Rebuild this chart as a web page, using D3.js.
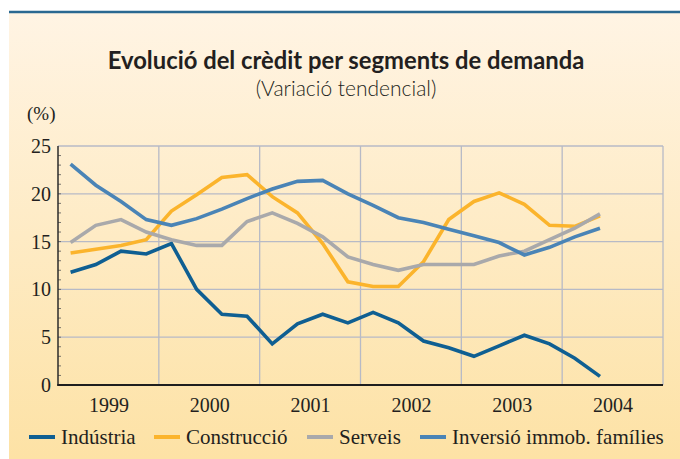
<!doctype html>
<html>
<head>
<meta charset="utf-8" />
<script src="https://d3js.org/d3.v7.min.js"></script>
<style>
  body{ margin:0; background:#fff; }
  svg text{ fill:#231f20; }
</style>
</head>
<body>
<svg width="680" height="459"></svg>
<script>
// quarterly data, 1999 T1 .. 2004 T2
var years = [1999, 2000, 2001, 2002, 2003, 2004];
var yTicks = [0, 5, 10, 15, 20, 25];

var industria   = [11.8, 12.6, 14.0, 13.7, 14.8, 10.0, 7.4, 7.2, 4.3, 6.4, 7.4, 6.5, 7.6, 6.5, 4.6, 3.9, 3.0, 4.1, 5.2, 4.3, 2.8, 0.9];
var construccio = [13.8, 14.2, 14.6, 15.2, 18.2, 19.9, 21.7, 22.0, 19.7, 18.0, 14.8, 10.8, 10.3, 10.3, 12.9, 17.3, 19.2, 20.1, 18.9, 16.7, 16.6, 17.7];
var serveis     = [14.9, 16.7, 17.3, 16.0, 15.2, 14.6, 14.6, 17.1, 18.0, 16.9, 15.5, 13.4, 12.6, 12.0, 12.6, 12.6, 12.6, 13.5, 14.0, 15.2, 16.4, 17.9];
var inversio    = [23.1, 20.9, 19.2, 17.3, 16.7, 17.4, 18.4, 19.5, 20.5, 21.3, 21.4, 20.0, 18.8, 17.5, 17.0, 16.3, 15.6, 14.9, 13.6, 14.4, 15.5, 16.4];

var seriesNames  = ["Indústria", "Construcció", "Serveis", "Inversió immob. famílies"];
var seriesColors = ["#0f5f92", "#fbb42c", "#a9a9ab", "#4a84b6"];
var seriesData   = [industria, construccio, serveis, inversio];

var svg = d3.select("svg");

// background panel
var defs = svg.append("defs");
var grad = defs.append("linearGradient").attr("id", "bg")
    .attr("x1", 0).attr("y1", 0).attr("x2", 0).attr("y2", 1);
grad.append("stop").attr("offset", "0%").attr("stop-color", "#fff4e4");
grad.append("stop").attr("offset", "100%").attr("stop-color", "#fde2a5");

svg.append("rect").attr("x", 9).attr("y", 12).attr("width", 671).attr("height", 447)
    .attr("fill", "url(#bg)");
svg.append("line").attr("x1", 9).attr("x2", 680).attr("y1", 12).attr("y2", 12)
    .attr("stroke", "#2a6891").attr("stroke-width", 2.5);

// titles
svg.append("text").attr("x", 346).attr("y", 69).attr("text-anchor", "middle")
    .style("font-family", "Lato, 'Open Sans', sans-serif").style("font-weight", 700)
    .style("font-size", "23.8px").text("Evolució del crèdit per segments de demanda");
svg.append("text").attr("x", 346).attr("y", 96).attr("text-anchor", "middle")
    .style("font-family", "Lato, 'Open Sans', sans-serif").style("font-weight", 300)
    .style("font-size", "21px").text("(Variació tendencial)");
svg.append("text").attr("x", 27).attr("y", 120)
    .style("font-family", "'Liberation Serif', serif").style("font-size", "19px").text("(%)");

// scales
var x = d3.scaleLinear().domain([1999, 2005]).range([58, 663]);
var y = d3.scaleLinear().domain([0, 25]).range([385, 146]);
var qx = function(i) { return x(1999 + (i + 0.5) / 4); };

// grid
var grid = svg.append("g").attr("stroke", "#b7bac6").attr("stroke-width", 1.3);
grid.selectAll("line.h").data(yTicks.slice(1)).enter().append("line")
    .attr("x1", x(1999)).attr("x2", x(2005))
    .attr("y1", d => y(d)).attr("y2", d => y(d));
grid.selectAll("line.v").data(d3.range(2000, 2006)).enter().append("line")
    .attr("x1", d => x(d)).attr("x2", d => x(d))
    .attr("y1", y(0)).attr("y2", y(25));

// y axis
var yAxis = d3.axisLeft(y).tickValues(yTicks).tickSize(0).tickPadding(7);
var gy = svg.append("g").attr("transform", "translate(58,0)").call(yAxis);
gy.select(".domain").remove();
gy.selectAll("text").style("font-family", "'Liberation Serif', serif").style("font-size", "20px")
    .style("fill", "#231f20");

// minor ticks inside
svg.append("g").selectAll("line").data(d3.range(1, 25)).enter().append("line")
    .attr("x1", 58).attr("x2", 61).attr("y1", d => y(d)).attr("y2", d => y(d))
    .attr("stroke", "#555").attr("stroke-width", 0.8);

// x axis labels at year centres
var xAxis = d3.axisBottom(x).tickValues(years.map(d => d + 0.5))
    .tickFormat(d => Math.floor(d)).tickSize(0).tickPadding(13);
var gx = svg.append("g").attr("transform", "translate(0,385)").call(xAxis);
gx.select(".domain").remove();
gx.selectAll("text").style("font-family", "'Liberation Serif', serif").style("font-size", "20px")
    .style("fill", "#231f20");

// axis lines
svg.append("line").attr("x1", 58).attr("x2", 58).attr("y1", y(25)).attr("y2", y(0) + 0.7)
    .attr("stroke", "#2b2b2b").attr("stroke-width", 1.5);
svg.append("line").attr("x1", 57.3).attr("x2", x(2005)).attr("y1", y(0)).attr("y2", y(0))
    .attr("stroke", "#1e1e1e").attr("stroke-width", 1.8);

// series
var line = d3.line().x((d, i) => qx(i)).y(d => y(d));
seriesData.forEach(function(s, k) {
  svg.append("path").datum(s).attr("d", line)
      .attr("fill", "none").attr("stroke", seriesColors[k]).attr("stroke-width", 3.6);
});

// legend
var legX = [29, 154, 307, 420];
var leg = svg.append("g").selectAll("g").data(seriesNames).enter().append("g")
    .attr("transform", (d, i) => "translate(" + legX[i] + ",437)");
leg.append("line").attr("x1", 0).attr("x2", 26).attr("y1", 0).attr("y2", 0)
    .attr("stroke", (d, i) => seriesColors[i]).attr("stroke-width", 4);
leg.append("text").attr("x", 32).attr("y", 7)
    .style("font-family", "'Liberation Serif', serif").style("font-size", "21px")
    .text(d => d);
</script>
</body>
</html>
